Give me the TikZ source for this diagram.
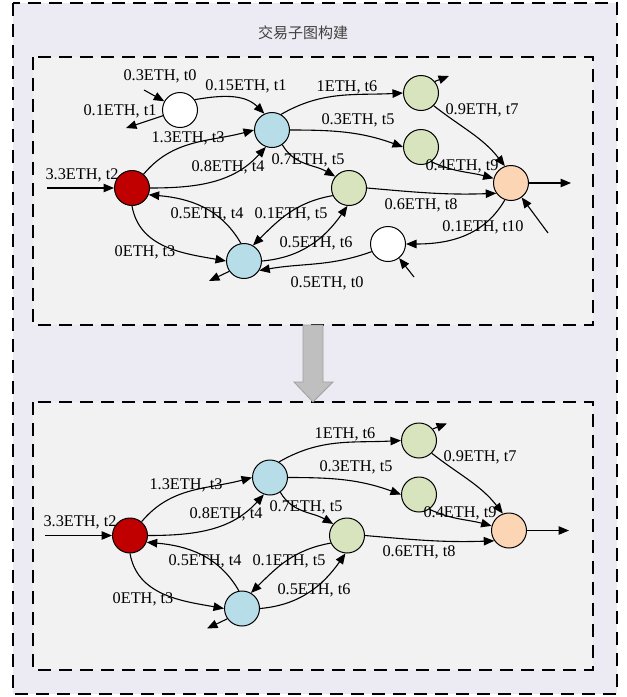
\documentclass[tikz,border=0pt]{standalone}
\usepackage{fontspec}
\setmainfont{Liberation Serif}
\newfontfamily\cjk{Noto Sans CJK SC}
\usetikzlibrary{arrows.meta}
\definecolor{outerfill}{HTML}{ECEAF2}
\definecolor{innerfill}{HTML}{F2F2F2}
\definecolor{nred}{HTML}{C00000}
\definecolor{nblue}{HTML}{B7DEE8}
\definecolor{ngreen}{HTML}{D7E4BD}
\definecolor{norange}{HTML}{FCD5B5}
\definecolor{arrfill}{HTML}{BFBFBF}
\definecolor{arrdraw}{HTML}{A0A0A0}
\tikzset{
  vtx/.style={circle,draw=black,line width=1pt,minimum size=35pt,inner sep=0pt},
  edge/.style={line width=1.1pt,-{Triangle[length=10.5pt,width=8.5pt]}},
  lbl/.style={font=\fontsize{16.3}{18}\selectfont,inner sep=0pt},
  dbox/.style={dash pattern=on 13pt off 8pt,line width=1.3pt},
}
\newcommand{\coregraph}[1]{%
  \node[vtx,fill=nblue] (#1B1) at (272,-130) {};
  \node[vtx,fill=nred] (#1R) at (132,-188) {};
  \node[vtx,fill=ngreen] (#1G1) at (421,-93) {};
  \node[vtx,fill=ngreen] (#1G2) at (421,-147) {};
  \node[vtx,fill=ngreen] (#1G3) at (349,-188) {};
  \node[vtx,fill=norange] (#1O) at (511,-183) {};
  \node[vtx,fill=nblue] (#1B2) at (244,-261) {};
  \coordinate (#1rin) at (47,-188);
  \coordinate (#1g1out) at (449,-76);
  \coordinate (#1oout) at (571,-183);
  \coordinate (#1b2out) at (209,-281);
  \draw[edge] (#1rin) -- (#1R);
  \draw[edge] (#1R.50) to[out=50,in=195] (#1B1.west);
  \draw[edge] (#1R.east) to[out=0,in=228] (#1B1.250);
  \draw[edge] (#1B1.60) to[out=30,in=183] (#1G1.west);
  \draw[edge] (#1B1.east) to[out=0,in=160] (#1G2.west);
  \draw[edge] (#1B1.-55) to[out=-60,in=150] (#1G3.140);
  \draw[edge] (#1G1.40) -- (#1g1out);
  \draw[edge] (#1G1.-45) to[out=-38,in=128] (#1O.110);
  \draw[edge] (#1G2.-55) to[out=-25,in=165] (#1O.165);
  \draw[edge] (#1G3.east) to[out=-5,in=182] (#1O.215);
  \draw[edge] (#1O.east) -- (#1oout);
  \draw[edge] (#1B2.east) to[out=5,in=235] (#1G3.265);
  \draw[edge] (#1G3.205) to[out=190,in=45] (#1B2.60);
  \draw[edge] (#1B2.100) to[out=120,in=-5] (#1R.-22);
  \draw[edge] (#1R.south) to[out=-80,in=170] (#1B2.west);
  \draw[edge] (#1B2.215) -- (#1b2out);
  \node[lbl] (#1l13) at (188,-138) {1.3ETH, t3};
  \node[lbl] (#1l08) at (228,-167) {0.8ETH, t4};
  \node[lbl] (#1l33) at (82,-175) {3.3ETH, t2};
  \node[lbl] (#1l1) at (347,-87) {1ETH, t6};
  \node[lbl] (#1l03) at (358,-120) {0.3ETH, t5};
  \node[lbl] (#1l07) at (308,-160) {0.7ETH, t5};
  \node[lbl] (#1l09) at (482,-110) {0.9ETH, t7};
  \node[lbl] (#1l04) at (462,-166) {0.4ETH, t9};
  \node[lbl] (#1l06) at (421,-205) {0.6ETH, t8};
  \node[lbl] (#1l05b) at (316,-243) {0.5ETH, t6};
  \node[lbl] (#1l01) at (291,-214) {0.1ETH, t5};
  \node[lbl] (#1l05a) at (207,-214) {0.5ETH, t4};
  \node[lbl] (#1l00) at (145,-252) {0ETH, t3};
}
\begin{document}
\begin{tikzpicture}[x=1pt,y=1pt]
\useasboundingbox (0,0) rectangle (627,-697);
\draw[dbox,fill=outerfill] (13,-3) rectangle (617,-694);
\node[font=\cjk\fontsize{15}{18}\selectfont,text=black!75] (title) at (303,-33) {交易子图构建};
\draw[dbox,fill=innerfill] (33,-57) rectangle (593,-325);
\draw[dbox,fill=innerfill] (33,-402) rectangle (593,-670);
\draw[fill=arrfill,draw=arrdraw,line width=0.8pt] (303,-325) -- (323,-325) -- (323,-382) -- (333,-382) -- (313,-402) -- (294,-382) -- (303,-382) -- cycle;
% top graph
\coregraph{t}
\node[vtx,fill=white] (tW1) at (180,-110) {};
\node[vtx,fill=white] (tW2) at (388,-244) {};
\coordinate (tw1in) at (144,-90);
\coordinate (tw1out) at (126,-128);
\coordinate (toin) at (548,-233);
\coordinate (tw2in) at (414,-277);
\draw[edge] (tw1in) -- (tW1);
\draw[edge] (tW1) -- (tw1out);
\draw[edge] (tW1.35) to[out=10,in=135] (tB1.115);
\draw[edge] (toin) -- (tO);
\draw[edge] (tO.250) to[out=-120,in=0] (tW2.east);
\draw[edge] (tw2in) -- (tW2);
\draw[edge] (tW2.205) to[out=200,in=10] (tB2.-32);
\node[lbl] (tl03a) at (160,-76) {0.3ETH, t0};
\node[lbl] (tl01a) at (120,-111) {0.1ETH, t1};
\node[lbl] (tl015) at (246,-86) {0.15ETH, t1};
\node[lbl] (tl01b) at (483,-227) {0.1ETH, t10};
\node[lbl] (tl05c) at (327,-283) {0.5ETH, t0};
% bottom graph
\begin{scope}[shift={(-2,-347.5)}]
\coregraph{b}
\end{scope}
\end{tikzpicture}
\end{document}
